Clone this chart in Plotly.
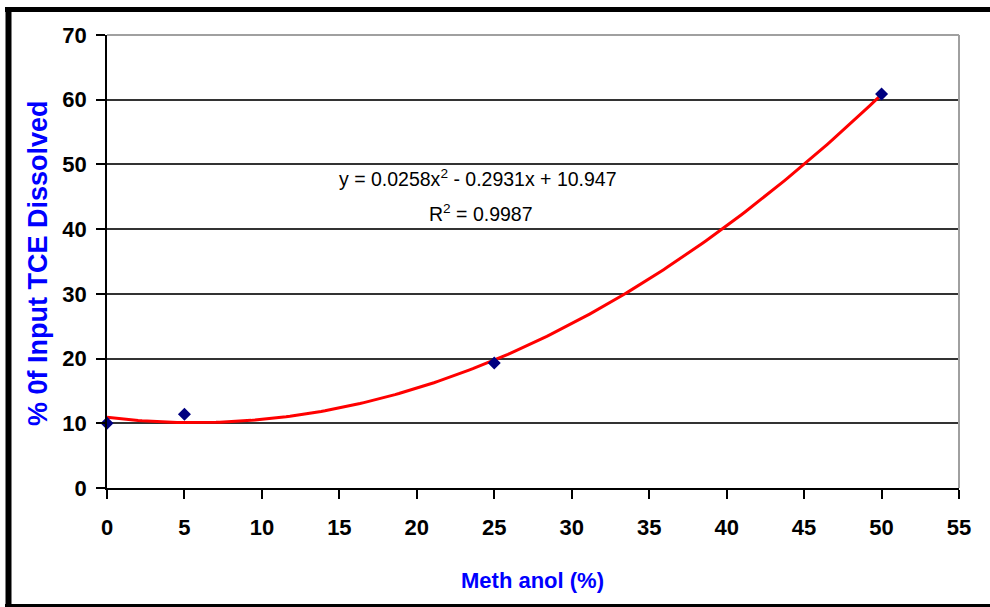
import numpy as np
import plotly.graph_objects as go

# ---- data ----
methanol_pct = [0, 5, 25, 50]
tce_dissolved = [10.0, 11.4, 19.3, 60.9]
x_ticks = [0, 5, 10, 15, 20, 25, 30, 35, 40, 45, 50, 55]
y_ticks = [0, 10, 20, 30, 40, 50, 60, 70]
eq_text = "y = 0.0258x<sup>2</sup> - 0.2931x + 10.947"
r2_text = "R<sup>2</sup> = 0.9987"

# polynomial (order 2) trendline fitted to the points
coef = np.polyfit(methanol_pct, tce_dissolved, 2)
xs = np.linspace(min(methanol_pct), max(methanol_pct), 200)
ys = np.polyval(coef, xs)

W, H = 990, 607
L, R, T, B = 107, 31, 35, 119
pw, ph = W - L - R, H - T - B

def px(x):
    return (x - L) / pw

def py(y):
    return (H - B - y) / ph

ARIAL = "Liberation Sans, Arial, sans-serif"

fig = go.Figure()
fig.add_trace(go.Scatter(
    x=xs, y=ys, mode="lines",
    line=dict(color="#ff0000", width=3),
    hoverinfo="skip", showlegend=False,
))
fig.add_trace(go.Scatter(
    x=methanol_pct, y=tce_dissolved, mode="markers",
    marker=dict(symbol="diamond", size=10, color="#000080"),
    cliponaxis=False, showlegend=False,
))

fig.update_layout(
    width=W, height=H,
    margin=dict(l=L, r=R, t=T, b=B, autoexpand=False),
    paper_bgcolor="white", plot_bgcolor="white",
    showlegend=False,
    xaxis=dict(
        range=[0, 55], tickvals=x_ticks, showgrid=False, zeroline=False,
        showline=True, linecolor="black", linewidth=1.5,
        ticks="outside", ticklen=9, tickcolor="black", tickwidth=1.5,
        tickfont=dict(family=ARIAL, size=22, color="black", weight="bold"),
        ticklabelstandoff=10,
    ),
    yaxis=dict(
        range=[0, 70], tickvals=y_ticks, showgrid=True,
        gridcolor="#333333", gridwidth=2, zeroline=False,
        showline=True, linecolor="black", linewidth=1.5,
        ticks="outside", ticklen=9, tickcolor="black", tickwidth=1.5,
        tickfont=dict(family=ARIAL, size=22, color="black", weight="bold"),
        ticklabelstandoff=5,
    ),
    annotations=[
        dict(xref="paper", yref="paper", x=px(532), y=py(580),
             text="Meth anol (%)", showarrow=False,
             font=dict(family=ARIAL, size=22, color="#0000ff", weight="bold"),
             xanchor="center", yanchor="middle"),
        dict(xref="paper", yref="paper", x=px(38), y=py(263),
             text="% 0f Input TCE Dissolved", showarrow=False, textangle=-90,
             font=dict(family=ARIAL, size=27, color="#0000ff", weight="bold"),
             xanchor="center", yanchor="middle"),
        dict(xref="paper", yref="paper", x=px(478), y=py(178),
             text=eq_text, showarrow=False,
             font=dict(family=ARIAL, size=19.5, color="black"),
             xanchor="center", yanchor="middle"),
        dict(xref="paper", yref="paper", x=px(481), y=py(213),
             text=r2_text, showarrow=False,
             font=dict(family=ARIAL, size=19.5, color="black"),
             xanchor="center", yanchor="middle"),
    ],
    shapes=[
        # plot area top/right border (light grey)
        dict(type="line", xref="paper", yref="paper", x0=0, x1=1, y0=1, y1=1,
             line=dict(color="#a0a0a0", width=2), layer="above"),
        dict(type="line", xref="paper", yref="paper", x0=1, x1=1, y0=0, y1=1,
             line=dict(color="#a0a0a0", width=2), layer="above"),
        # outer frame
        dict(type="line", xref="paper", yref="paper",
             x0=px(8.5), x1=px(8.5), y0=py(7), y1=py(607),
             line=dict(color="black", width=6)),
        dict(type="line", xref="paper", yref="paper",
             x0=px(5), x1=px(990), y0=py(9.5), y1=py(9.5),
             line=dict(color="black", width=5)),
        dict(type="line", xref="paper", yref="paper",
             x0=px(5), x1=px(990), y0=py(605.5), y1=py(605.5),
             line=dict(color="black", width=3)),
    ],
)

fig.write_html(
    "out.html",
    config={"displayModeBar": False},
    post_script="document.body.style.margin='0';document.body.style.overflow='hidden';",
)
